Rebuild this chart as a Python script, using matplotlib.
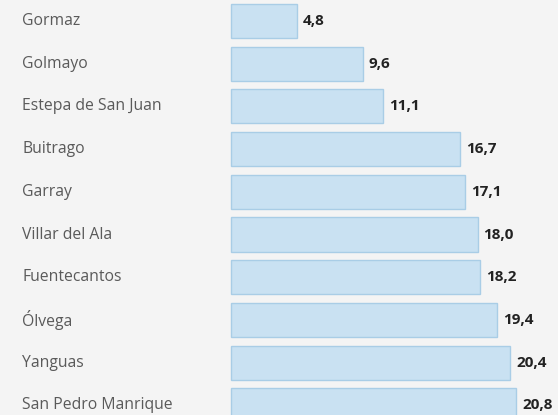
import numpy as np
import matplotlib.pyplot as plt

towns = ["Gormaz", "Golmayo", "Estepa de San Juan", "Buitrago", "Garray",
         "Villar del Ala", "Fuentecantos", "Ólvega", "Yanguas", "San Pedro Manrique"]
values = [4.8, 9.6, 11.1, 16.7, 17.1, 18.0, 18.2, 19.4, 20.4, 20.8]

bg = "#f4f4f4"
fig = plt.figure(figsize=(5.58, 4.15), dpi=100, facecolor=bg)
ax = fig.add_axes([0, 0, 1, 1])
ax.set_facecolor(bg)

px = 13.7   # pixels per unit
row = 42.7  # pixels per row
y = np.arange(len(towns))
ax.barh(y, values, height=34 / row, left=0, color="#c9e1f2",
        edgecolor="#a9cde6", linewidth=1)

ax.set_xlim(-231 / px, (558 - 231) / px)
ax.set_ylim((415 - 21) / row, -21 / row)
ax.axis("off")

for yi, name, v in zip(y, towns, values):
    ax.text(22 / 558, yi, name, transform=ax.get_yaxis_transform(),
            ha="left", va="center", fontsize=11.3, color="#5a5a5a",
            family="Open Sans")
    ax.text(v + 6 / px, yi, f"{v:.1f}".replace(".", ","), ha="left",
            va="center", fontsize=11, fontweight="bold", color="#222222",
            family="Open Sans")

fig.savefig("out.png", dpi=100, facecolor=bg)
